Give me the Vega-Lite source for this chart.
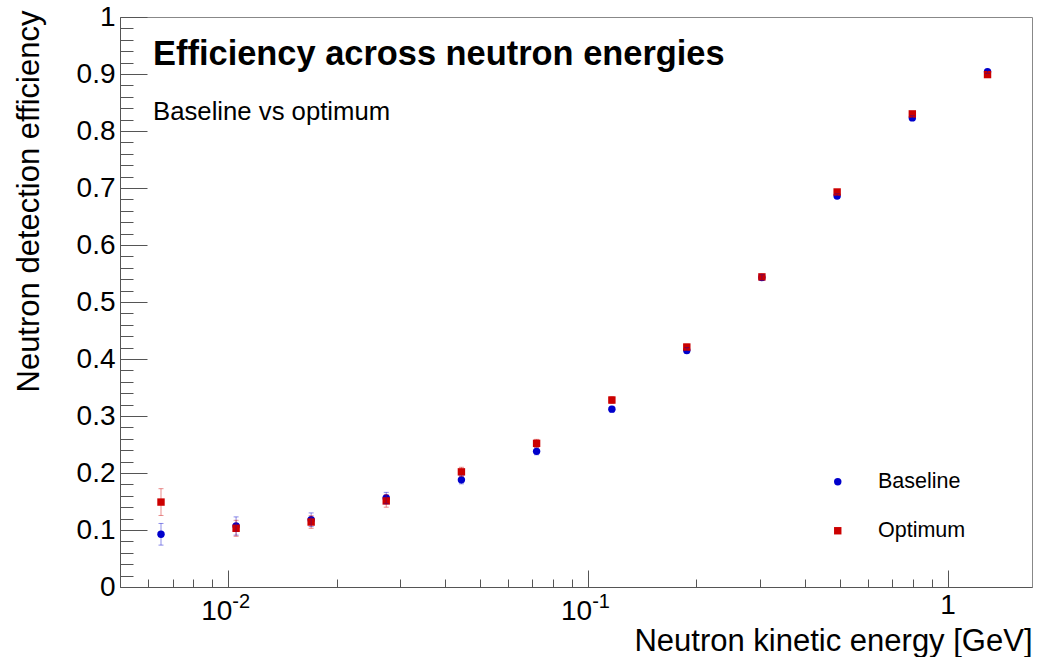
{
  "$schema": "https://vega.github.io/schema/vega-lite/v6.json",
  "width": 912,
  "height": 570,
  "autosize": {"type": "none"},
  "padding": {"left": 120, "top": 17, "right": 16, "bottom": 70},
  "background": "white",
  "config": {
    "view": {"stroke": "#888888", "strokeWidth": 1},
    "font": "Liberation Sans",
    "axis": {"labelOverlap": false},
    "axisY": {"labelOverlap": false}
  },
  "datasets": {
    "points": [
      {"E": 0.0065, "eff": 0.0925, "lo": 0.0735, "hi": 0.1115, "series": "Baseline"},
      {"E": 0.01051, "eff": 0.107, "lo": 0.091, "hi": 0.123, "series": "Baseline"},
      {"E": 0.01699, "eff": 0.118, "lo": 0.106, "hi": 0.130, "series": "Baseline"},
      {"E": 0.02747, "eff": 0.156, "lo": 0.146, "hi": 0.166, "series": "Baseline"},
      {"E": 0.04444, "eff": 0.188, "lo": 0.181, "hi": 0.195, "series": "Baseline"},
      {"E": 0.0719, "eff": 0.238, "lo": 0.232, "hi": 0.244, "series": "Baseline"},
      {"E": 0.1164, "eff": 0.312, "lo": 0.307, "hi": 0.317, "series": "Baseline"},
      {"E": 0.188, "eff": 0.415, "lo": 0.410, "hi": 0.420, "series": "Baseline"},
      {"E": 0.304, "eff": 0.543, "lo": 0.538, "hi": 0.548, "series": "Baseline"},
      {"E": 0.492, "eff": 0.686, "lo": 0.682, "hi": 0.690, "series": "Baseline"},
      {"E": 0.796, "eff": 0.823, "lo": 0.819, "hi": 0.827, "series": "Baseline"},
      {"E": 1.288, "eff": 0.904, "lo": 0.901, "hi": 0.907, "series": "Baseline"},
      {"E": 0.0065, "eff": 0.149, "lo": 0.1255, "hi": 0.1725, "series": "Optimum"},
      {"E": 0.01051, "eff": 0.103, "lo": 0.089, "hi": 0.117, "series": "Optimum"},
      {"E": 0.01699, "eff": 0.114, "lo": 0.103, "hi": 0.125, "series": "Optimum"},
      {"E": 0.02747, "eff": 0.151, "lo": 0.140, "hi": 0.162, "series": "Optimum"},
      {"E": 0.04444, "eff": 0.202, "lo": 0.194, "hi": 0.210, "series": "Optimum"},
      {"E": 0.0719, "eff": 0.252, "lo": 0.245, "hi": 0.259, "series": "Optimum"},
      {"E": 0.1164, "eff": 0.328, "lo": 0.322, "hi": 0.334, "series": "Optimum"},
      {"E": 0.188, "eff": 0.421, "lo": 0.416, "hi": 0.426, "series": "Optimum"},
      {"E": 0.304, "eff": 0.544, "lo": 0.539, "hi": 0.549, "series": "Optimum"},
      {"E": 0.492, "eff": 0.693, "lo": 0.689, "hi": 0.697, "series": "Optimum"},
      {"E": 0.796, "eff": 0.830, "lo": 0.826, "hi": 0.834, "series": "Optimum"},
      {"E": 1.288, "eff": 0.899, "lo": 0.896, "hi": 0.902, "series": "Optimum"}
    ],
    "xlab": [
      {"E": 0.01, "base": "10", "exp": "-2"},
      {"E": 0.1, "base": "10", "exp": "-1"},
      {"E": 1, "base": "1", "exp": ""}
    ],
    "titles": [
      {"t": "Efficiency across neutron energies", "s": "Baseline vs optimum"}
    ]
  },
  "layer": [
    {
      "data": {"name": "points"},
      "mark": {"type": "point", "filled": true, "opacity": 1, "size": 55, "strokeWidth": 0},
      "encoding": {
        "x": {
          "field": "E", "type": "quantitative",
          "title": "Neutron kinetic energy [GeV]",
          "scale": {"type": "log", "domain": [0.005, 1.712], "nice": false},
          "axis": {
            "title": "Neutron kinetic energy [GeV]",
            "values": [0.006, 0.007, 0.008, 0.009, 0.01, 0.02, 0.03, 0.04, 0.05, 0.06, 0.07, 0.08, 0.09, 0.1, 0.2, 0.3, 0.4, 0.5, 0.6, 0.7, 0.8, 0.9, 1],
            "tickCount": 100,
            "labels": false,
            "grid": false,
            "domainColor": "#555555",
            "tickColor": "#555555",
            "tickSize": {"condition": {"test": "datum.value == 0.01 || datum.value == 0.1 || datum.value == 1", "value": -17}, "value": -8},
            "titleFont": "Liberation Sans",
            "titleFontSize": 31,
            "titleFontWeight": "normal",
            "titleColor": "#000000",
            "titleAnchor": "end",
            "titleAlign": "right",
            "titleBaseline": "alphabetic",
            "titleX": 912,
            "titleY": 63
          }
        },
        "y": {
          "field": "eff", "type": "quantitative",
          "title": "Neutron detection efficiency",
          "scale": {"domain": [0, 1], "nice": false, "zero": false},
          "axis": {
            "title": "Neutron detection efficiency",
            "values": [0, 0.02, 0.04, 0.06, 0.08, 0.1, 0.12, 0.14, 0.16, 0.18, 0.2, 0.22, 0.24, 0.26, 0.28, 0.3, 0.32, 0.34, 0.36, 0.38, 0.4, 0.42, 0.44, 0.46, 0.48, 0.5, 0.52, 0.54, 0.56, 0.58, 0.6, 0.62, 0.64, 0.66, 0.68, 0.7, 0.72, 0.74, 0.76, 0.78, 0.8, 0.82, 0.84, 0.86, 0.88, 0.9, 0.92, 0.94, 0.96, 0.98, 1],
            "tickCount": 100,
            "labelExpr": "abs(datum.value*10 - round(datum.value*10)) < 0.001 ? (datum.value == 0 ? '0' : (datum.value == 1 ? '1' : format(datum.value, '.1f'))) : ''",
            "labelFont": "Liberation Sans",
            "labelFontSize": 28,
            "labelColor": "#000000",
            "labelPadding": 32,
            "labelFlush": false,
            "labelOverlap": false,
            "grid": false,
            "domainColor": "#555555",
            "tickColor": "#555555",
            "tickSize": {"condition": {"test": "abs(datum.value*10 - round(datum.value*10)) < 0.001", "value": -27}, "value": -13},
            "titleFont": "Liberation Sans",
            "titleFontSize": 31,
            "titleFontWeight": "normal",
            "titleColor": "#000000",
            "titleAnchor": "end",
            "titleAlign": "right",
            "titleAngle": -90,
            "titleBaseline": "middle",
            "titleX": -91,
            "titleY": -7
          }
        },
        "color": {
          "field": "series", "type": "nominal",
          "scale": {"domain": ["Baseline", "Optimum"], "range": ["#0000cc", "#cc0000"]},
          "legend": {
            "orient": "none",
            "legendX": 707,
            "legendY": 454,
            "title": null,
            "padding": 0,
            "labelFont": "Liberation Sans",
            "labelFontSize": 21.5,
            "labelColor": "#000000",
            "labelOffset": 29.5,
            "rowPadding": 26,
            "symbolSize": 55,
            "symbolStrokeWidth": 0
          }
        },
        "shape": {
          "field": "series", "type": "nominal",
          "scale": {"domain": ["Baseline", "Optimum"], "range": ["circle", "square"]}
        },
        "order": {"field": "series", "sort": "ascending"}
      }
    },
    {
      "data": {"name": "points"},
      "transform": [{"filter": "datum.series == 'Baseline'"}],
      "mark": {"type": "errorbar", "ticks": {"size": 5, "thickness": 1}, "thickness": 1, "color": "#0000cc", "opacity": 0.45},
      "encoding": {
        "x": {"field": "E", "type": "quantitative", "title": "Neutron kinetic energy [GeV]"},
        "y": {"field": "lo", "type": "quantitative", "title": "Neutron detection efficiency"},
        "y2": {"field": "hi"}
      }
    },
    {
      "data": {"name": "points"},
      "transform": [{"filter": "datum.series == 'Optimum'"}],
      "mark": {"type": "errorbar", "ticks": {"size": 5, "thickness": 1}, "thickness": 1, "color": "#cc0000", "opacity": 0.45},
      "encoding": {
        "x": {"field": "E", "type": "quantitative", "title": "Neutron kinetic energy [GeV]"},
        "y": {"field": "lo", "type": "quantitative", "title": "Neutron detection efficiency"},
        "y2": {"field": "hi"}
      }
    },
    {
      "data": {"name": "xlab"},
      "transform": [{"filter": "datum.exp != ''"}],
      "mark": {"type": "text", "align": "right", "baseline": "alphabetic", "dx": 4, "dy": 33, "fontSize": 28, "font": "Liberation Sans", "color": "#000000"},
      "encoding": {
        "x": {"field": "E", "type": "quantitative", "title": "Neutron kinetic energy [GeV]"},
        "y": {"datum": 0, "type": "quantitative"},
        "text": {"field": "base"}
      }
    },
    {
      "data": {"name": "xlab"},
      "transform": [{"filter": "datum.exp != ''"}],
      "mark": {"type": "text", "align": "left", "baseline": "alphabetic", "dx": 4, "dy": 21, "fontSize": 20, "font": "Liberation Sans", "color": "#000000"},
      "encoding": {
        "x": {"field": "E", "type": "quantitative", "title": "Neutron kinetic energy [GeV]"},
        "y": {"datum": 0, "type": "quantitative"},
        "text": {"field": "exp"}
      }
    },
    {
      "data": {"name": "xlab"},
      "transform": [{"filter": "datum.exp == ''"}],
      "mark": {"type": "text", "align": "center", "baseline": "alphabetic", "dy": 27, "fontSize": 28, "font": "Liberation Sans", "color": "#000000"},
      "encoding": {
        "x": {"field": "E", "type": "quantitative", "title": "Neutron kinetic energy [GeV]"},
        "y": {"datum": 0, "type": "quantitative"},
        "text": {"field": "base"}
      }
    },
    {
      "data": {"name": "titles"},
      "mark": {"type": "text", "align": "left", "baseline": "alphabetic", "fontSize": 34.4, "fontWeight": "bold", "font": "Liberation Sans", "color": "#000000"},
      "encoding": {
        "x": {"datum": 0.00618, "type": "quantitative"},
        "y": {"datum": 0.9158, "type": "quantitative"},
        "text": {"field": "t"}
      }
    },
    {
      "data": {"name": "titles"},
      "mark": {"type": "text", "align": "left", "baseline": "alphabetic", "fontSize": 25.7, "font": "Liberation Sans", "color": "#000000"},
      "encoding": {
        "x": {"datum": 0.00618, "type": "quantitative"},
        "y": {"datum": 0.8193, "type": "quantitative"},
        "text": {"field": "s"}
      }
    }
  ]
}
